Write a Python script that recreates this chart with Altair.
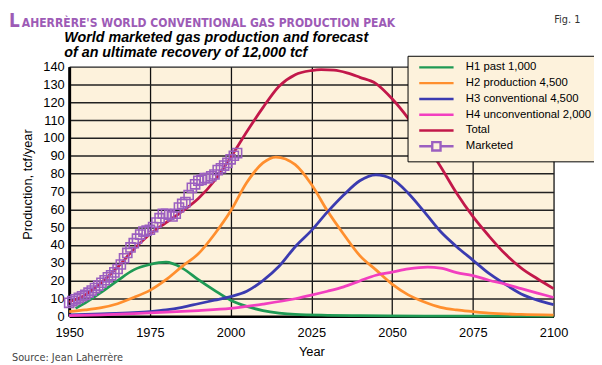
import altair as alt
import pandas as pd

# ---------------- data ----------------
series_names = ["H1 past 1,000", "H2 production 4,500", "H3 conventional 4,500",
                "H4 unconventional 2,000", "Total", "Marketed"]
series_colors = ["#1f9a55", "#ff8f2e", "#3b3bb0", "#f23fc0", "#c2184a", "#9b5fc0"]

h1_years = [1952, 1955, 1960, 1965, 1970, 1975, 1980, 1985, 1990, 1995, 2000, 2005,
            2010, 2015, 2020, 2030, 2040, 2060, 2100]
h1_vals = [4.4, 7.5, 13.5, 20, 26, 29, 30.3, 27, 20.5, 14.5, 9, 5.5,
           3.2, 1.8, 1.0, 0.5, 0.3, 0.1, 0.0]

h2_years = [1950, 1955, 1960, 1965, 1970, 1975, 1980, 1985, 1990, 1995, 2000, 2005,
            2010, 2014, 2020, 2025, 2030, 2035, 2040, 2045, 2050, 2055, 2060, 2065,
            2070, 2075, 2080, 2090, 2100]
h2_vals = [2.6, 3.5, 4.8, 7, 10.5, 14.5, 20.5, 28, 35, 46, 59, 75,
           86, 89.3, 85, 74, 59, 46, 34, 26, 18, 12, 8, 5,
           3.5, 2.6, 1.8, 1.0, 0.6]

h3_years = [1950, 1960, 1970, 1975, 1980, 1985, 1990, 1995, 2000, 2005, 2010, 2015,
            2020, 2025, 2030, 2035, 2040, 2045, 2050, 2055, 2060, 2065, 2070, 2075,
            2080, 2085, 2090, 2095, 2100]
h3_vals = [0.8, 1.3, 2, 2.6, 3.5, 5, 7, 9, 11, 14, 20, 28,
           39, 48, 58.5, 68, 76, 79.3, 77, 69, 58.5, 47.5, 39, 31.5,
           24, 18, 12.5, 9, 6.5]

h4_years = [1950, 1960, 1970, 1980, 1990, 2000, 2010, 2020, 2025, 2030, 2035, 2040,
            2045, 2050, 2055, 2061, 2065, 2070, 2075, 2080, 2085, 2090, 2095, 2100]
h4_vals = [0.4, 0.8, 1.5, 2.3, 3.2, 4.4, 6.8, 9.8, 11.8, 14, 16.5, 19.8,
           23, 24.7, 26.5, 27.5, 27, 24.5, 22.8, 20.2, 18, 15.5, 13, 10.5]

total_years = [1950, 1955, 1960, 1965, 1970, 1975, 1980, 1985, 1990, 1995, 2000, 2005,
               2010, 2015, 2020, 2025, 2028, 2032, 2036, 2040, 2045, 2050, 2055, 2060,
               2065, 2070, 2075, 2080, 2085, 2090, 2095, 2100]
total_vals = [8, 12, 19, 27.5, 37.5, 46, 52.5, 58.8, 66, 76, 89, 103.5,
              117, 129, 135.5, 137.8, 138.3, 138, 136.5, 134, 130.5, 122, 111, 98,
              84, 69, 56, 45, 35, 27, 21, 15.5]

marketed_years = list(range(1950, 2003))
marketed_vals = [7.5, 8.5, 9.5, 10.3, 11.2, 12, 13.2, 14.4, 15.8, 17.2,
                 18.8, 20.2, 21.8, 23, 24.6, 26.5, 29, 32.5, 35.5, 38.6,
                 41, 43.5, 45.8, 47.5, 48, 48.5, 50, 52.5, 55, 57.5,
                 57.5, 57, 56, 57.5, 61, 63, 64, 68, 72, 74,
                 76, 76.5, 77.5, 77.5, 78.5, 79.5, 82, 83, 84.5, 86,
                 88, 90, 91.5]

x_ticks = [1950, 1975, 2000, 2025, 2050, 2075, 2100]
y_ticks = list(range(0, 141, 10))

title_first = "L"
title_rest = "AHERRÈRE'S WORLD CONVENTIONAL GAS PRODUCTION PEAK"
fig_label = "Fig. 1"
subtitle_lines = ["World marketed gas production and forecast",
                  "of an ultimate recovery of 12,000 tcf"]
source_text = "Source: Jean Laherrère"

# ---------------- build tables ----------------
rows = []
for name, yrs, vals in [(series_names[0], h1_years, h1_vals),
                        (series_names[1], h2_years, h2_vals),
                        (series_names[2], h3_years, h3_vals),
                        (series_names[3], h4_years, h4_vals),
                        (series_names[4], total_years, total_vals)]:
    for yr, v in zip(yrs, vals):
        rows.append({"series": name, "year": yr, "value": v})
curves = pd.DataFrame(rows)
marketed = pd.DataFrame({"year": marketed_years, "value": marketed_vals})

SANS = "Liberation Sans, Arial, sans-serif"
NARROW = "Liberation Sans Narrow, DejaVu Sans Condensed, Arial Narrow, sans-serif"
CREAM = "#fdf2dc"
PURPLE = "#9b5fc0"

X = alt.X("year:Q", title="Year",
          scale=alt.Scale(domain=[1950, 2100], nice=False, zero=False),
          axis=alt.Axis(values=x_ticks, format="d", grid=True, gridColor="#111111",
                        gridWidth=1.3, gridOpacity=1, ticks=False, tickSize=0,
                        domainColor="#000000", domainWidth=2.5,
                        labelFont=SANS, labelFontSize=13, labelColor="#000000",
                        labelPadding=11, labelFlush=False,
                        titleFont=SANS, titleFontSize=13, titleFontWeight="normal",
                        titleColor="#000000", titlePadding=6))
Y = alt.Y("value:Q", title="Production, tcf/year",
          scale=alt.Scale(domain=[0, 140], nice=False),
          axis=alt.Axis(values=y_ticks, grid=True, gridColor="#222222",
                        gridWidth=1.5, gridOpacity=1, ticks=False, tickSize=0,
                        domainColor="#000000", domainWidth=3,
                        labelFont=SANS, labelFontSize=13, labelColor="#000000",
                        labelPadding=5,
                        titleFont=SANS, titleFontSize=13, titleFontWeight="normal",
                        titleColor="#000000", titleX=-42, titleY=119,
                        titleAlign="center", titleBaseline="middle", titleAngle=270))

lines = alt.Chart(curves).mark_line(strokeWidth=2.8, interpolate="monotone").encode(
    x=X, y=Y,
    stroke=alt.Stroke("series:N",
                      scale=alt.Scale(domain=series_names[:5], range=series_colors[:5]),
                      legend=None),
)

points = alt.Chart(marketed).mark_point(shape="square", filled=False, size=85,
                                        strokeWidth=1.6, color=PURPLE,
                                        opacity=1).encode(x=X, y=Y)

legend_paths = (["M-5.8,0H5.8M0,-1.4M0,1.4"] * 5
                + ["M-5.8,0H-1.4M1.4,0H5.8M-1.4,-1.4H1.4V1.4H-1.4Z"])
leg = alt.Legend(title=None, orient="none", legendX=343, legendY=-11,
                 fillColor=CREAM, strokeColor="#000000", padding=6,
                 symbolSize=36, symbolStrokeWidth=2.4, symbolOffset=17.5,
                 labelOffset=24, rowPadding=-3,
                 labelFont=SANS, labelFontSize=11.5, labelColor="#000000")
legend_layer = alt.Chart(curves).transform_filter("datum.value < -1").mark_point(
    filled=False, opacity=1, strokeWidth=2.4).encode(
    x=X, y=Y,
    color=alt.Color("series:N", scale=alt.Scale(domain=series_names, range=series_colors),
                    legend=leg),
    shape=alt.Shape("series:N", scale=alt.Scale(domain=series_names, range=legend_paths),
                    legend=leg),
)

def text_layer(txt, x, y, **kw):
    return alt.Chart(pd.DataFrame({"t": [txt]})).mark_text(**kw).encode(
        text="t:N", x=alt.value(x), y=alt.value(y))

t1 = text_layer(title_first, -61, -40, font=NARROW, fontSize=19, fontWeight="bold",
                color="#9d5bb6", align="left", baseline="alphabetic")
t2 = text_layer(title_rest, -48, -40, font=NARROW, fontSize=12.2, fontWeight="bold",
                color="#9d5bb6", align="left", baseline="alphabetic")
t3 = text_layer(fig_label, 505, -44, font=NARROW, fontSize=11, color="#333333",
                align="center", baseline="alphabetic")
sub = alt.Chart(pd.DataFrame({"t": [subtitle_lines[0]]})).mark_text(
    text=subtitle_lines, font=SANS, fontSize=14.5, fontWeight="bold", fontStyle="italic",
    color="#000000", align="left", baseline="alphabetic", lineHeight=15).encode(
    x=alt.value(-5), y=alt.value(-25))
src = text_layer(source_text, -58, 298, font=NARROW, fontSize=11, color="#444444",
                 align="left", baseline="alphabetic")

chart = alt.layer(lines, points, legend_layer, t1, t2, t3, sub, src).properties(
    width=491, height=253,
    padding={"left": 62, "top": 57, "right": 41, "bottom": 47},
    autosize=alt.AutoSizeParams(type="none"),
    background="#ffffff",
).configure_view(fill=CREAM, stroke="transparent")

chart.save("out.html", embed_options={"renderer": "svg", "actions": False})
